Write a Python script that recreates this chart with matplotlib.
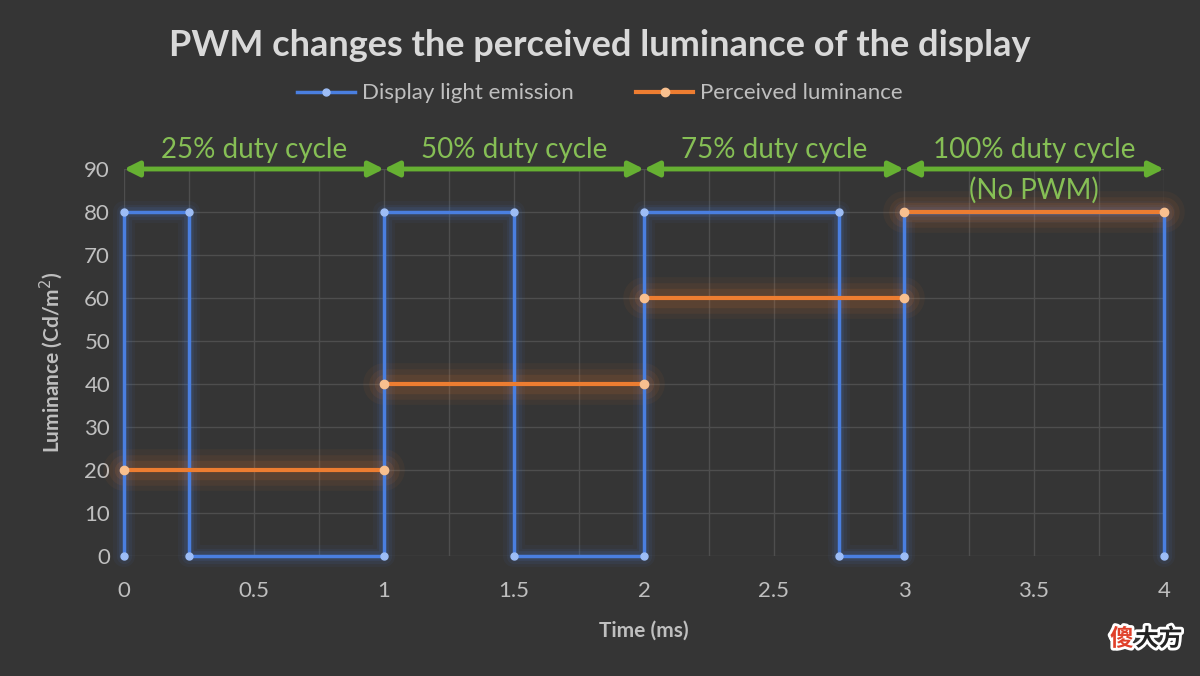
import numpy as np
import matplotlib
matplotlib.use('Agg')
import matplotlib.pyplot as plt
import matplotlib.patheffects as pe

plt.rcParams['font.family'] = ['Lato', 'DejaVu Sans']

# display light emission (square wave)
emit_t = [0, 0, 0.25, 0.25, 1, 1, 1.5, 1.5, 2, 2, 2.75, 2.75, 3, 3, 4, 4]
emit_l = [0, 80, 80, 0, 0, 80, 80, 0, 0, 80, 80, 0, 0, 80, 80, 0]

# perceived luminance (one flat segment per duty cycle)
perc_t = [0, 1, np.nan, 1, 2, np.nan, 2, 3, np.nan, 3, 4]
perc_l = [20, 20, np.nan, 40, 40, np.nan, 60, 60, np.nan, 80, 80]

cycle_edges = [0, 1, 2, 3, 4]
cycle_labels = ['25% duty cycle', '50% duty cycle', '75% duty cycle', '100% duty cycle']

bg = '#353535'
blue = '#4a7fe0'
orange = '#ed7d31'
green = '#66b032'
green_txt = '#86bf55'
txt = '#bfbfbf'

fig = plt.figure(figsize=(12, 6.76), dpi=100, facecolor=bg)
ax = fig.add_axes([0.1033, 0.1775, 0.8667, 0.5725], facecolor=bg)

ax.set_xlim(0, 4)
ax.set_ylim(0, 90)
ax.set_xticks(np.arange(0, 4.01, 0.5))
ax.set_xticklabels(['0', '0.5', '1', '1.5', '2', '2.5', '3', '3.5', '4'])
ax.set_xticks(np.arange(0, 4.01, 0.25), minor=True)
ax.set_yticks(np.arange(0, 91, 10))
ax.grid(which='both', color='#4e4e4e', lw=1)
ax.tick_params(which='both', length=0, colors=txt, labelsize=16)
ax.tick_params(axis='x', pad=18)
ax.tick_params(axis='y', pad=10)
for s in ax.spines.values():
    s.set_visible(False)

# glow
for w, a in [(16, 0.05), (11, 0.08), (7, 0.12)]:
    ax.plot(emit_t, emit_l, color=blue, lw=w, alpha=a, solid_capstyle='round', clip_on=False)
for w, a in [(30, 0.05), (22, 0.07), (14, 0.1)]:
    ax.plot(perc_t, perc_l, color=orange, lw=w, alpha=a, solid_capstyle='round', clip_on=False)

ax.plot(emit_t, emit_l, color=blue, lw=2.5, marker='o', ms=5, mfc='#9dbdf5', mec='#9dbdf5',
        clip_on=False, zorder=5, label='Display light emission')
ax.plot(perc_t, perc_l, color=orange, lw=3, marker='o', ms=6, mfc='#f8c08f', mec='#f8c08f',
        clip_on=False, zorder=6, label='Perceived luminance')

# duty cycle arrows
for i, lab in enumerate(cycle_labels):
    x0, x1 = cycle_edges[i], cycle_edges[i + 1]
    ax.annotate('', xy=(x0, 90), xytext=(x1, 90), annotation_clip=False,
                arrowprops=dict(arrowstyle='<|-|>', color=green, lw=3.5, mutation_scale=22,
                                shrinkA=0, shrinkB=0))
    ax.text((x0 + x1) / 2, 91.5, lab, color=green_txt, fontsize=20, ha='center', va='bottom')
ax.text(3.5, 85, '(No PWM)', color=green_txt, fontsize=20, ha='center', va='center')

ax.set_xlabel('Time (ms)', color=txt, fontsize=15, fontweight='bold', labelpad=14)
ax.set_ylabel('Luminance (Cd/m$^2$)', color=txt, fontsize=15, fontweight='bold', labelpad=14)

fig.text(0.5, 0.932, 'PWM changes the perceived luminance of the display', color='#d9d9d9',
         fontsize=26, fontweight='bold', ha='center', va='center')

leg = fig.legend(loc='center', bbox_to_anchor=(0.5, 0.862), ncol=2, frameon=False,
                 fontsize=16, labelcolor=txt, handlelength=2.6, handletextpad=0.3,
                 columnspacing=2.8)

# watermark
wm = dict(fontsize=17, fontweight='bold', family=['Noto Sans CJK SC', 'DejaVu Sans'],
          va='center', path_effects=[pe.withStroke(linewidth=4, foreground='white')])
fig.text(0.925, 0.055, '傻', color='#e0402a', ha='left', **wm)
fig.text(0.946, 0.055, '大方', color='#222222', ha='left', **wm)

fig.savefig('out.png', dpi=100, facecolor=bg)
